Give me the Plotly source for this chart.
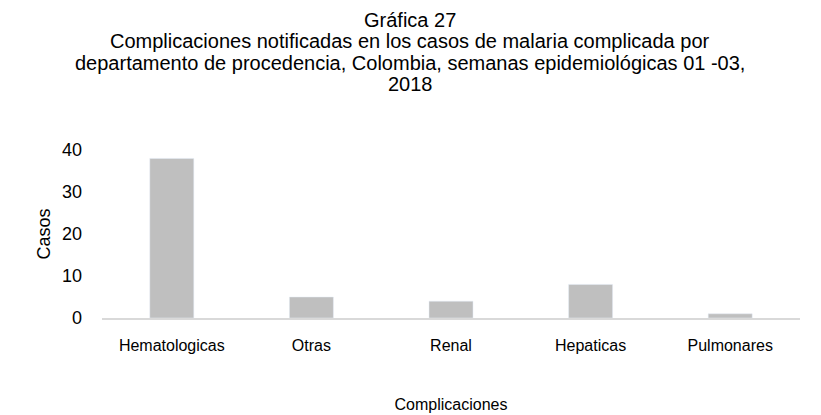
import plotly.graph_objects as go

categorias = ["Hematologicas", "Otras", "Renal", "Hepaticas", "Pulmonares"]
casos = [38, 5, 4, 8, 1]
y_ticks = [0, 10, 20, 30, 40]

titulo_lineas = [
    "Gráfica 27",
    "Complicaciones notificadas en los casos de malaria complicada por",
    "departamento de procedencia, Colombia, semanas epidemiológicas 01 -03,",
    "2018",
]

# page has an 8px body margin; figure is sized to fill the rest of the window
W, H = 813, 407
ML, MR, MT, MB = 94, 21, 142, 97
plot_top_page = 8 + MT
plot_h = H - MT - MB
plot_bottom_page = plot_top_page + plot_h

line_centers_page = [19.5, 41, 62.5, 84]

fig = go.Figure(go.Bar(x=categorias, y=casos, marker_color="#BFBFBF", width=0.315))

annotations = []
for txt, yc in zip(titulo_lineas, line_centers_page):
    annotations.append(dict(
        text=txt, xref="paper", yref="paper",
        x=(410 - 8 - ML) / (W - ML - MR), xanchor="center",
        y=(plot_bottom_page - yc) / plot_h, yanchor="middle",
        showarrow=False, font=dict(size=20, color="#000000"),
    ))

fig.update_layout(
    width=W, height=H,
    margin=dict(l=ML, r=MR, t=MT, b=MB, autoexpand=False),
    paper_bgcolor="white", plot_bgcolor="white",
    font=dict(family="Liberation Sans, Arial, sans-serif", color="#000000", size=16),
    annotations=annotations,
    showlegend=False,
    xaxis=dict(showline=True, linecolor="#D9D9D9", linewidth=1.5, ticks="", automargin=False,
               ticklabelstandoff=12, tickfont=dict(size=16),
               title=dict(text="Complicaciones", font=dict(size=16), standoff=46)),
    yaxis=dict(range=[0, 40], tickvals=y_ticks, showgrid=False, zeroline=False, showline=False,
               ticks="", ticklabelstandoff=19, tickfont=dict(size=18), automargin=False,
               title=dict(text="Casos", font=dict(size=18), standoff=6)),
)

fig.write_html("out.html")
